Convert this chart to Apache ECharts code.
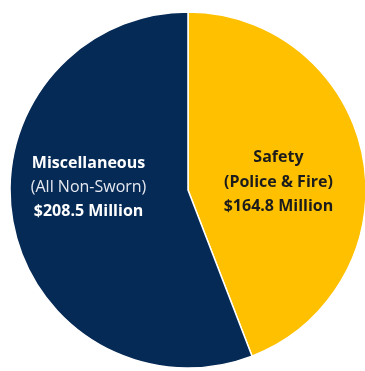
<!DOCTYPE html>
<html><head><meta charset="utf-8">
<script src="https://cdn.jsdelivr.net/npm/echarts@6/dist/echarts.min.js"></script>
<style>html,body{margin:0;padding:0;background:#fff}#c{width:365px;height:371px}</style>
</head><body><div id="c"></div>
<script>
const categories = ['Safety', 'Miscellaneous'];
const subtitles = ['(Police & Fire)', '(All Non-Sworn)'];
const values = [164.8, 208.5];
const colors = ['#FFC000', '#062A56'];

const chart = echarts.init(document.getElementById('c'));
const data = categories.map((n, i) => ({
  name: n, value: values[i],
  itemStyle: { color: colors[i] },
  label: {
    formatter: i === 0
      ? '{a|' + n + '}\n{a|' + subtitles[i] + '}\n{a|${c} Million}'
      : '{b|' + n + '}\n{d|' + subtitles[i] + '}\n{b|${c} Million}'
  }
}));
chart.setOption({
  animation: false,
  series: [{
    type: 'pie',
    center: [188, 190],
    radius: [0, 178],
    startAngle: 90,
    clockwise: true,
    itemStyle: { borderColor: '#fff', borderWidth: 1.5 },
    label: {
      show: true, position: 'inside',
      fontFamily: 'Open Sans', fontSize: 16, lineHeight: 24,
      rich: {
        a: { color: '#1c1c1c', fontWeight: 'bold', fontSize: 16, lineHeight: 24.5, fontFamily: 'Open Sans' },
        b: { color: '#ffffff', fontWeight: 'bold', fontSize: 16, lineHeight: 24, fontFamily: 'Open Sans' },
        d: { color: '#e6e9f0', fontWeight: 'normal', fontSize: 16, lineHeight: 24, fontFamily: 'Open Sans' }
      }
    },
    labelLayout: function (p) {
      return p.dataIndex === 0 ? { dx: 0, dy: 9 } : { dx: -9, dy: -19 };
    },
    data: data
  }]
});
</script></body></html>
